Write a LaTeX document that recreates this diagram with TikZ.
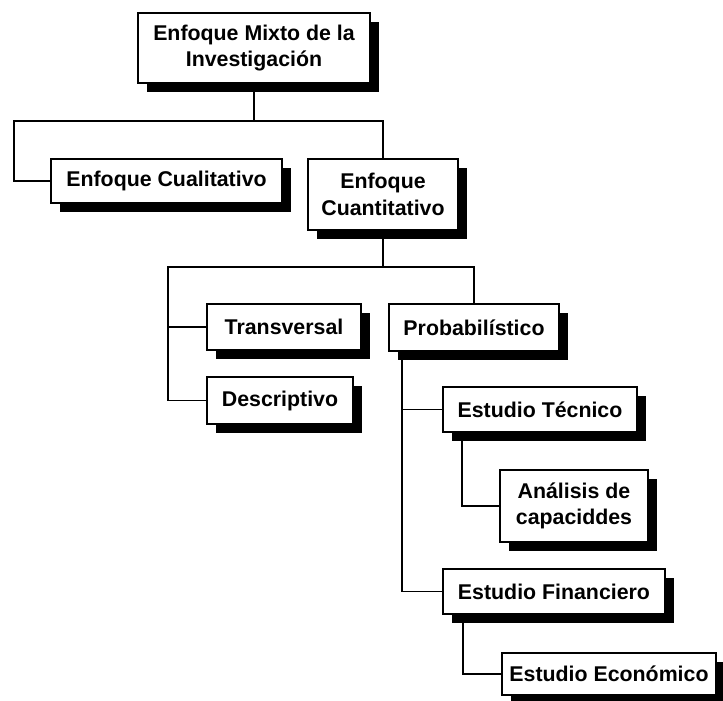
\documentclass[tikz,border=0pt]{standalone}
\usepackage{fontspec}
\setmainfont{Liberation Sans}
\usetikzlibrary{shadows}
\begin{document}
\begin{tikzpicture}[x=0.75pt,y=-0.75pt,
  bx/.style={draw=black, line width=1.4pt, fill=white, align=center, inner sep=0pt,
    font=\fontsize{16}{20}\selectfont\bfseries,
    drop shadow={shadow xshift=6.5pt, shadow yshift=-6.5pt, opacity=1, fill=black}},
  ln/.style={line width=1.4pt, black}]
\useasboundingbox (0,0) rectangle (723,700);
% nodes
\node[bx, minimum width=174pt, minimum height=52.5pt] (top) at (254,48) {Enfoque Mixto de la\\Investigación};
\node[bx, minimum width=173.25pt, minimum height=33pt] (cual) at (166.5,181) {Enfoque Cualitativo};
\node[bx, minimum width=112.5pt, minimum height=53.25pt] (cuant) at (383,194.5) {Enfoque\\Cuantitativo};
\node[bx, minimum width=115.5pt, minimum height=34.5pt] (trans) at (284,327) {Transversal};
\node[bx, minimum width=109.5pt, minimum height=35.25pt] (desc) at (280,400.5) {Descriptivo};
\node[bx, minimum width=127.5pt, minimum height=35.25pt] (prob) at (474,327.5) {Probabilístico};
\node[bx, minimum width=145.5pt, minimum height=33.75pt] (tecn) at (540,409.5) {Estudio Técnico};
\node[bx, minimum width=111pt, minimum height=54pt] (anal) at (574,506) {Análisis de\\capaciddes};
\node[bx, minimum width=166.5pt, minimum height=33.75pt] (fin) at (554,591.5) {Estudio Financiero};
\node[bx, minimum width=160.5pt, minimum height=31.5pt] (econ) at (609,674) {Estudio Económico};
% junctions
\coordinate (j1) at (254,121);
\coordinate (j2) at (383,267);
% connectors
\draw[ln] (top.south) -- (j1);
\draw[ln] (cual.west) -| (14,121) -| (cuant.north);
\draw[ln] (cuant.south) -- (j2);
\draw[ln] (desc.west) -| (168,267) -| (prob.north);
\draw[ln] (trans.west) -- (trans.west -| 168,0);
\draw[ln] ([xshift=10.5pt]prob.south west) |- (fin.west);
\draw[ln] ([xshift=10.5pt]prob.south west) |- (tecn.west);
\draw[ln] ([xshift=15pt]tecn.south west) |- (anal.west);
\draw[ln] ([xshift=15.75pt]fin.south west) |- (econ.west);
\end{tikzpicture}
\end{document}
